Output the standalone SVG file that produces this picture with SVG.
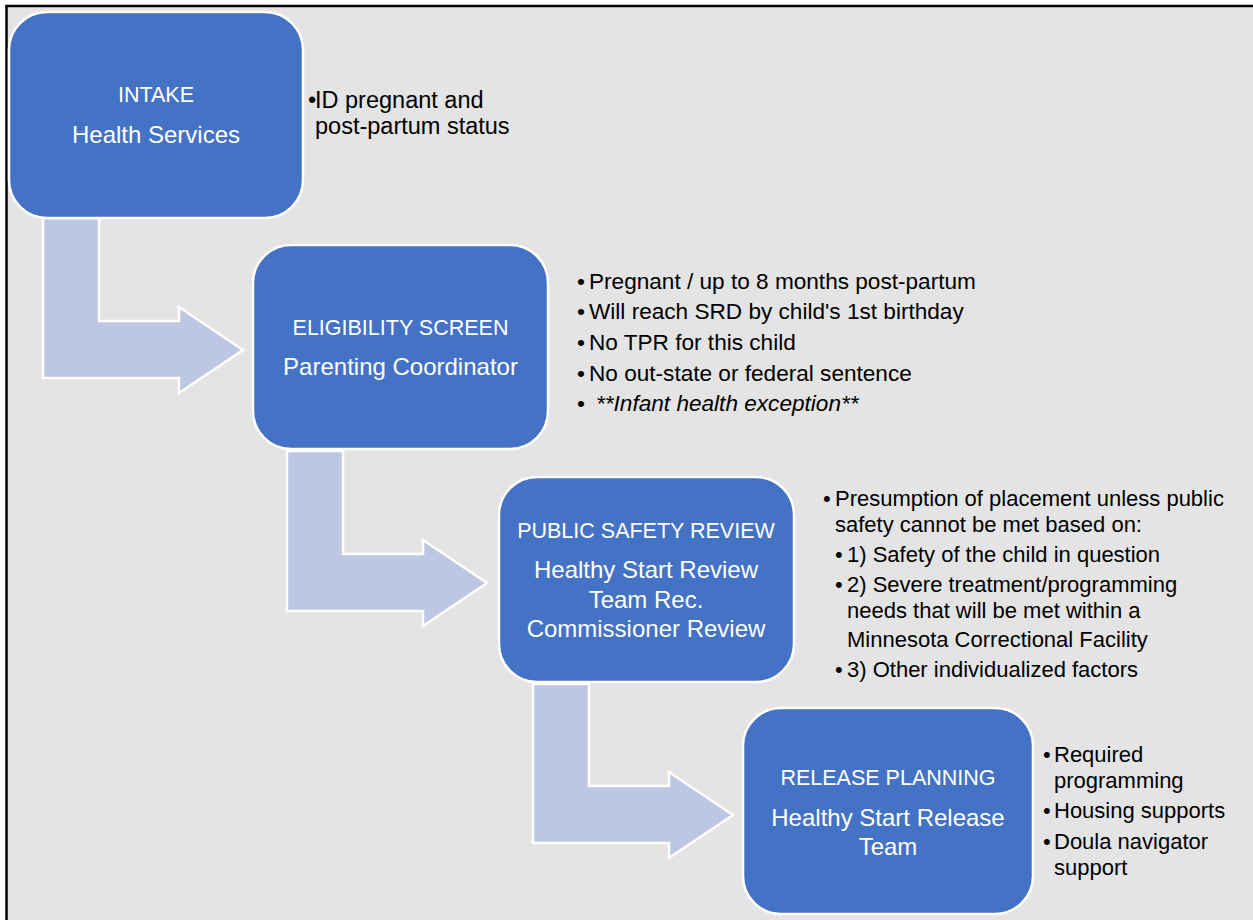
<svg xmlns="http://www.w3.org/2000/svg" width="1253" height="920" viewBox="0 0 1253 920">
<style>
.box{fill:#4472c4;stroke:#ffffff;stroke-width:2.5}
.arr{fill:#bdc7e3;stroke:#ffffff;stroke-width:2.5;stroke-linejoin:miter}
.lbl{font-family:"Liberation Sans",Arial,sans-serif;fill:#ffffff;text-anchor:middle;font-size:24px}
.cap{font-size:21.5px}
.bt{font-family:"Liberation Sans",Arial,sans-serif;fill:#000000;font-size:22px}
.b1{font-size:23.5px}
.b2{font-size:22.6px}
.it{font-style:italic}
</style>
<rect x="0" y="0" width="1253" height="920" fill="#ffffff"/>
<rect x="7" y="6" width="1246" height="914" fill="#e4e4e4"/>
<line x1="5.5" y1="6" x2="1253" y2="6" stroke="#000" stroke-width="2.5"/>
<line x1="6.5" y1="5" x2="6.5" y2="920" stroke="#000" stroke-width="2.5"/>
<g id="connectors">
<path class="arr" d="M43,218 L99,218 L99,321 L179,321 L179,307 L243,350 L179,393 L179,378 L43,378 Z"/>
<path class="arr" d="M287,451 L343,451 L343,554 L423,554 L423,540 L487,583 L423,626 L423,611 L287,611 Z"/>
<path class="arr" d="M533,684 L589,684 L589,786 L669,786 L669,772 L733,815 L669,858 L669,843 L533,843 Z"/>
</g>
<g id="intake">
<rect class="box" x="9" y="12" width="294" height="206" rx="38"/>
<text class="lbl cap" x="156" y="102">INTAKE</text>
<text class="lbl" x="156" y="143">Health Services</text>
<text class="bt b1" x="308" y="108">•</text>
<text class="bt b1" x="315" y="108">ID pregnant and</text>
<text class="bt b1" x="315" y="134">post-partum status</text>
</g>
<g id="eligibility">
<rect class="box" x="253" y="245" width="295" height="204" rx="38"/>
<text class="lbl cap" x="400.5" y="335">ELIGIBILITY SCREEN</text>
<text class="lbl" x="400.5" y="375">Parenting Coordinator</text>
<text class="bt b2" x="577" y="289">•</text>
<text class="bt b2" x="589" y="289">Pregnant / up to 8 months post-partum</text>
<text class="bt b2" x="577" y="319">•</text>
<text class="bt b2" x="589" y="319">Will reach SRD by child's 1st birthday</text>
<text class="bt b2" x="577" y="350">•</text>
<text class="bt b2" x="589" y="350">No TPR for this child</text>
<text class="bt b2" x="577" y="381">•</text>
<text class="bt b2" x="589" y="381">No out-state or federal sentence</text>
<text class="bt b2" x="577" y="411">•</text>
<text class="bt b2 it" x="596" y="411">**Infant health exception**</text>
</g>
<g id="public-safety">
<rect class="box" x="499" y="477" width="295" height="205" rx="38"/>
<text class="lbl cap" x="646" y="538">PUBLIC SAFETY REVIEW</text>
<text class="lbl" x="646" y="578">Healthy Start Review</text>
<text class="lbl" x="646" y="608">Team Rec.</text>
<text class="lbl" x="646" y="637">Commissioner Review</text>
<text class="bt" x="823" y="506">•</text>
<text class="bt" x="835" y="506">Presumption of placement unless public</text>
<text class="bt" x="835" y="532">safety cannot be met based on:</text>
<text class="bt" x="835" y="562">•</text>
<text class="bt" x="847" y="562">1) Safety of the child in question</text>
<text class="bt" x="835" y="592">•</text>
<text class="bt" x="847" y="592">2) Severe treatment/programming</text>
<text class="bt" x="847" y="618">needs that will be met within a</text>
<text class="bt" x="847" y="647">Minnesota Correctional Facility</text>
<text class="bt" x="835" y="677">•</text>
<text class="bt" x="847" y="677">3) Other individualized factors</text>
</g>
<g id="release">
<rect class="box" x="743" y="708" width="290" height="206" rx="38"/>
<text class="lbl cap" x="888" y="785">RELEASE PLANNING</text>
<text class="lbl" x="888" y="826">Healthy Start Release</text>
<text class="lbl" x="888" y="855">Team</text>
<text class="bt" x="1043" y="762">•</text>
<text class="bt" x="1054" y="762">Required</text>
<text class="bt" x="1054" y="788">programming</text>
<text class="bt" x="1043" y="818">•</text>
<text class="bt" x="1054" y="818">Housing supports</text>
<text class="bt" x="1043" y="849">•</text>
<text class="bt" x="1054" y="849">Doula navigator</text>
<text class="bt" x="1054" y="875">support</text>
</g>
</svg>
